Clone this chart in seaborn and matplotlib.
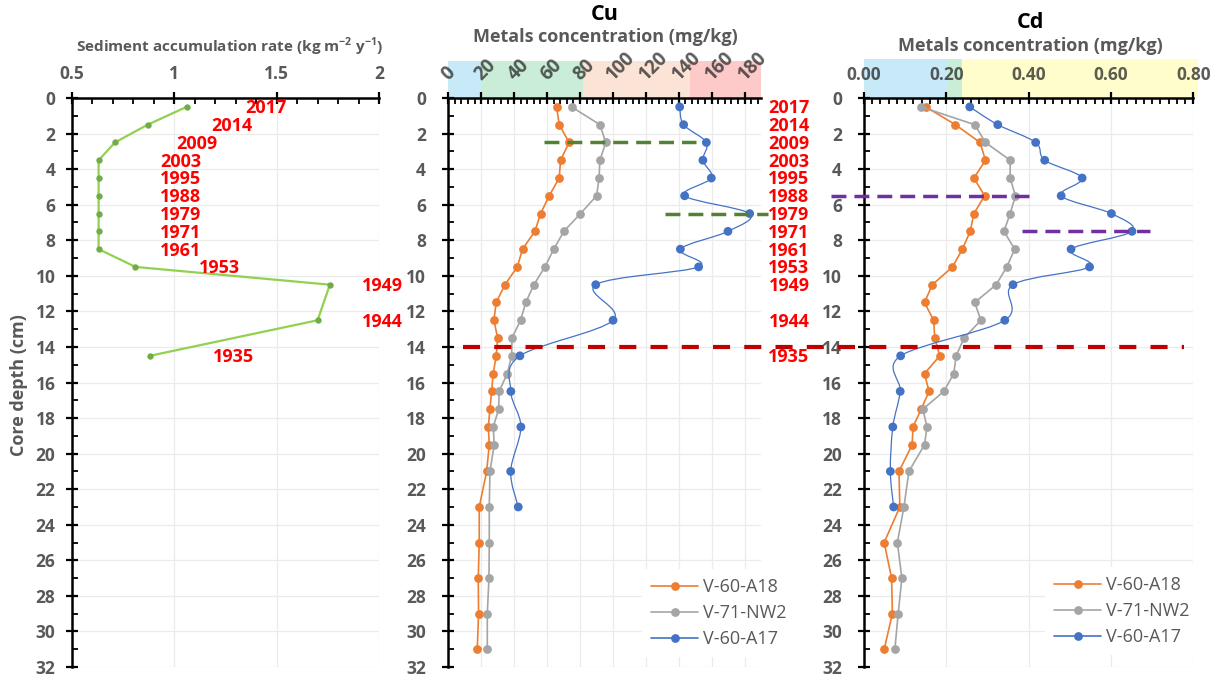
import numpy as np
import matplotlib
matplotlib.use("Agg")
import matplotlib.pyplot as plt
import seaborn as sns
from matplotlib.lines import Line2D
from matplotlib.patches import Rectangle, PathPatch
from matplotlib.path import Path
from matplotlib.transforms import blended_transform_factory
from matplotlib.ticker import MultipleLocator, FixedLocator

# ---------------- data ----------------
# sediment accumulation rate (kg m-2 y-1) with dated horizons
rate_depth = [0.5, 1.5, 2.5, 3.5, 4.5, 5.5, 6.5, 7.5, 8.5, 9.5, 10.5, 12.5, 14.5]
rate = [1.06, 0.87, 0.71, 0.63, 0.63, 0.63, 0.63, 0.63, 0.63, 0.81, 1.76, 1.70, 0.88]
years = ["2017", "2014", "2009", "2003", "1995", "1988", "1979", "1971",
         "1961", "1953", "1949", "1944", "1935"]

# core depths (cm) of the metal samples
metal_depth = [0.5, 1.5, 2.5, 3.5, 4.5, 5.5, 6.5, 7.5, 8.5, 9.5, 10.5, 11.5, 12.5,
               13.5, 14.5, 15.5, 16.5, 17.5, 18.5, 19.5, 21, 23, 25, 27, 29, 31]
a17_depth = [0.5, 1.5, 2.5, 3.5, 4.5, 5.5, 6.5, 7.5, 8.5, 9.5, 10.5, 12.5,
             14.5, 16.5, 18.5, 21, 23]

# Cu (mg/kg)
cu_a18 = [65.8, 67.4, 73.4, 68.2, 67.4, 61.3, 56.1, 52.6, 45.1, 41.9, 34.4, 29.1, 27.7,
          30.0, 29.1, 27.3, 26.3, 25.3, 24.3, 24.9, 23.3, 18.8, 18.8, 18.2, 18.4, 17.6]
cu_nw2 = [74.9, 92.1, 95.7, 92.1, 91.6, 90.1, 80.3, 70.2, 64.1, 58.7, 52.0, 47.1, 43.9,
          38.7, 38.5, 35.8, 30.9, 30.6, 27.3, 27.9, 25.3, 24.9, 24.9, 24.7, 23.7, 23.7]
cu_a17 = [140.6, 143.0, 156.8, 154.7, 159.8, 143.6, 183.1, 169.9, 141.0, 152.1,
          89.6, 100.1, 43.5, 38.0, 44.1, 37.9, 42.5]

# Cd (mg/kg)
cd_a18 = [0.150, 0.222, 0.282, 0.295, 0.267, 0.293, 0.267, 0.258, 0.239, 0.215, 0.166,
          0.147, 0.169, 0.172, 0.184, 0.147, 0.158, 0.139, 0.119, 0.117, 0.085, 0.087,
          0.049, 0.067, 0.069, 0.049]
cd_nw2 = [0.139, 0.269, 0.295, 0.355, 0.355, 0.368, 0.355, 0.340, 0.366, 0.347, 0.321,
          0.269, 0.284, 0.243, 0.224, 0.218, 0.194, 0.143, 0.153, 0.147, 0.109, 0.097,
          0.081, 0.092, 0.083, 0.075]
cd_a17 = [0.257, 0.325, 0.417, 0.439, 0.530, 0.479, 0.601, 0.651, 0.503, 0.548,
          0.362, 0.342, 0.089, 0.088, 0.070, 0.064, 0.072]

core_names = ["V-60-A18", "V-71-NW2", "V-60-A17"]

# quality-class bands drawn behind the concentration scales
cu_band_edges = [0, 20.6, 82, 147, 190]
cd_band_edges = [0, 0.203, 0.237, 0.812]

cu_ticks = list(range(0, 181, 20))
cd_ticks = [0.0, 0.2, 0.4, 0.6, 0.8]
rate_ticks = [0.5, 1, 1.5, 2]

# ---------------- style ----------------
sns.set_style("white")
plt.rcParams["font.family"] = ["Open Sans", "DejaVu Sans"]
plt.rcParams["font.weight"] = "bold"
plt.rcParams["mathtext.fontset"] = "custom"
plt.rcParams["mathtext.rm"] = "Open Sans:bold"

GREY = "#595959"
C_A18, C_NW2, C_A17 = "#ed7d31", "#a5a5a5", "#4472c4"
GRID = "#ebebeb"
SCALE_LABEL = (0.15, 0.15, 0.15, 0.75)

W, H = 1223, 678
fig = plt.figure(figsize=(W / 100, H / 100), dpi=100)
fig.patch.set_facecolor("white")

TOP, BOT = 98, 667


def fx(px):
    return px / W


def fy(py):
    return 1 - py / H


def add_panel(left_px, right_px):
    return fig.add_axes([fx(left_px), fy(BOT), (right_px - left_px) / W, (BOT - TOP) / H])


def style_panel(ax, xlim, xmajor, xminor):
    ax.set_xlim(*xlim)
    ax.set_ylim(32, 0)
    ax.xaxis.tick_top()
    ax.set_xlabel("")
    ax.set_ylabel("")
    ax.xaxis.set_major_locator(FixedLocator(xmajor))
    ax.xaxis.set_minor_locator(MultipleLocator(xminor))
    ax.yaxis.set_major_locator(MultipleLocator(2))
    ax.yaxis.set_minor_locator(MultipleLocator(1))
    for s in ["right", "bottom"]:
        ax.spines[s].set_visible(False)
    for s in ["top", "left"]:
        ax.spines[s].set_visible(True)
        ax.spines[s].set_linewidth(1.8)
        ax.spines[s].set_color("black")
    ax.tick_params(which="major", direction="inout", length=8, width=1.6, color="black",
                   top=True, left=True, bottom=False, right=False)
    ax.tick_params(which="minor", direction="in", length=4, width=1.3, color="black",
                   top=True, left=True, bottom=False, right=False)
    ax.tick_params(axis="y", which="major", labelsize=12.5, labelcolor=GREY, pad=8)
    ax.grid(True, which="major", color=GRID, lw=0.9)
    ax.set_axisbelow(True)


def smooth_path(xs, ys):
    # Catmull-Rom curve through the points, written as cubic Bezier segments
    pts = np.column_stack([xs, ys]).astype(float)
    n = len(pts)
    verts, codes = [pts[0]], [Path.MOVETO]
    for i in range(n - 1):
        p0 = pts[i - 1] if i > 0 else pts[i]
        p1, p2 = pts[i], pts[i + 1]
        p3 = pts[i + 2] if i + 2 < n else pts[i + 1]
        verts += [p1 + (p2 - p0) / 6, p2 - (p3 - p1) / 6, p2]
        codes += [Path.CURVE4] * 3
    return Path(verts, codes)


def draw_cores(ax, a18, nw2, a17):
    sns.lineplot(x=a18, y=metal_depth, sort=False, estimator=None, ax=ax, color=C_A18,
                 lw=1.2, marker="o", markersize=6.3, markeredgewidth=0, legend=False, zorder=3)
    sns.lineplot(x=nw2, y=metal_depth, sort=False, estimator=None, ax=ax, color=C_NW2,
                 lw=1.2, marker="o", markersize=6.3, markeredgewidth=0, legend=False, zorder=4)
    ax.add_patch(PathPatch(smooth_path(a17, a17_depth), facecolor="none", edgecolor=C_A17,
                           lw=0.9, zorder=5))
    sns.scatterplot(x=a17, y=a17_depth, ax=ax, color=C_A17, s=40, edgecolor="none",
                    legend=False, zorder=6)


def draw_bands(ax, edges, colors, top_px):
    tr = blended_transform_factory(ax.transData, fig.transFigure)
    for x0, x1, c in zip(edges[:-1], edges[1:], colors):
        fig.add_artist(Rectangle((x0, fy(TOP)), x1 - x0, fy(top_px) - fy(TOP),
                                 transform=tr, facecolor=c, edgecolor="none", zorder=-1))


def add_legend(ax, left_px, center_px):
    handles = [Line2D([], [], color=c, lw=1.2, marker="o", markersize=6.3,
                      markeredgewidth=0) for c in (C_A18, C_NW2, C_A17)]
    leg = ax.legend(handles, core_names, loc="center left",
                    bbox_to_anchor=(fx(left_px), fy(center_px)),
                    bbox_transform=fig.transFigure, frameon=True, framealpha=1,
                    facecolor="white", edgecolor="none", fancybox=False,
                    prop={"size": 13, "weight": "normal"}, labelcolor=GREY,
                    handlelength=2.6, handletextpad=0.3, labelspacing=0.45,
                    borderpad=0.5)
    leg.set_zorder(10)


# ---------------- left panel: accumulation rate ----------------
ax0 = add_panel(72, 379)
sns.lineplot(x=rate, y=rate_depth, sort=False, estimator=None, ax=ax0, color="#92d050",
             lw=1.6, marker="o", markersize=4.6, markerfacecolor="#70ad47",
             markeredgewidth=0, legend=False, zorder=3)
style_panel(ax0, (0.5, 2.0), rate_ticks, 0.1)
ax0.set_xticks(rate_ticks)
ax0.set_xticklabels(["0.5", "1", "1.5", "2"])
ax0.tick_params(axis="x", which="major", labelsize=12.5, labelcolor=GREY, pad=7)

rate_label_x = [1.45, 1.28, 1.11, 1.03, 1.03, 1.03, 1.03, 1.03, 1.03, 1.22, 1.917, 1.917, 1.29]
for yr, d, xl in zip(years, rate_depth, rate_label_x):
    ax0.text(xl, d + 0.08, yr, color="#ff0000", fontsize=13, fontweight="bold",
             ha="left" if xl > 1.9 else "center", va="center", clip_on=False, zorder=7)

fig.text(fx(230), fy(47), r"Sediment accumulation rate (kg m$^{-2}$ y$^{-1}$)",
         ha="center", va="center", fontsize=11, color=GREY, fontweight="bold")
fig.text(fx(19), fy(385), "Core depth (cm)", rotation=90, ha="center", va="center",
         fontsize=13, color=GREY, fontweight="bold")

# ---------------- middle panel: Cu ----------------
ax1 = add_panel(448.3, 761)
draw_cores(ax1, cu_a18, cu_nw2, cu_a17)
style_panel(ax1, (0, 190), cu_ticks, 4)
ax1.set_xticks(cu_ticks)
ax1.set_xticklabels([str(t) for t in cu_ticks], rotation=45, ha="left", va="baseline",
                    rotation_mode="anchor")
ax1.tick_params(axis="x", which="major", labelsize=13.5, labelcolor=SCALE_LABEL, pad=8)
ax1.tick_params(axis="y", pad=12)
draw_bands(ax1, cu_band_edges, ["#c8eaf8", "#c9edd7", "#fbe4d6", "#fdc9c9"], 61)

# horizons of the Cu maxima
ax1.plot([58.1, 150.7], [2.5, 2.5], color="#548235", lw=2.5, dashes=(4.3, 2.3),
         zorder=8, clip_on=False)
ax1.plot([131.5, 194], [6.5, 6.5], color="#548235", lw=2.5, dashes=(4.3, 2.3),
         zorder=8, clip_on=False)

for yr, d in zip(years, rate_depth):
    ax1.text(207, d + 0.08, yr, color="#ff0000", fontsize=13, fontweight="bold",
             ha="center", va="center", clip_on=False, zorder=7)

fig.text(fx(605), fy(15), "Cu", ha="center", va="center", fontsize=15.5,
         color="black", fontweight="bold")
fig.text(fx(605), fy(37), "Metals concentration (mg/kg)", ha="center", va="center",
         fontsize=13, color=GREY, fontweight="bold")
add_legend(ax1, 633, 613)

# ---------------- right panel: Cd ----------------
ax2 = add_panel(864, 1193.3)
draw_cores(ax2, cd_a18, cd_nw2, cd_a17)
style_panel(ax2, (0, 0.8), cd_ticks, 0.02)
ax2.set_xticks(cd_ticks)
ax2.set_xticklabels([f"{t:.2f}" for t in cd_ticks])
ax2.tick_params(axis="x", which="major", labelsize=12.5, labelcolor=SCALE_LABEL, pad=6)
ax2.tick_params(axis="y", pad=12)
draw_bands(ax2, cd_band_edges, ["#c8eaf8", "#c9edd7", "#fefdcb"], 59)

# horizons of the Cd maxima
ax2.plot([-0.081, 0.4015], [5.5, 5.5], color="#7030a0", lw=2.5, dashes=(4.3, 2.3),
         zorder=8, clip_on=False)
ax2.plot([0.383, 0.695], [7.5, 7.5], color="#7030a0", lw=2.5, dashes=(4.3, 2.3),
         zorder=8, clip_on=False)
# 1935 horizon, spanning both metal panels
ax2.plot([-0.975, 0.778], [14, 14], color="#c00000", lw=3, dashes=(4.1, 3.4),
         zorder=8, clip_on=False)

fig.text(fx(1030), fy(22), "Cd", ha="center", va="center", fontsize=15.5,
         color="black", fontweight="bold")
fig.text(fx(1030), fy(46), "Metals concentration (mg/kg)", ha="center", va="center",
         fontsize=13, color=GREY, fontweight="bold")
add_legend(ax2, 1036, 611)

fig.savefig("out.png", dpi=100, facecolor="white")
